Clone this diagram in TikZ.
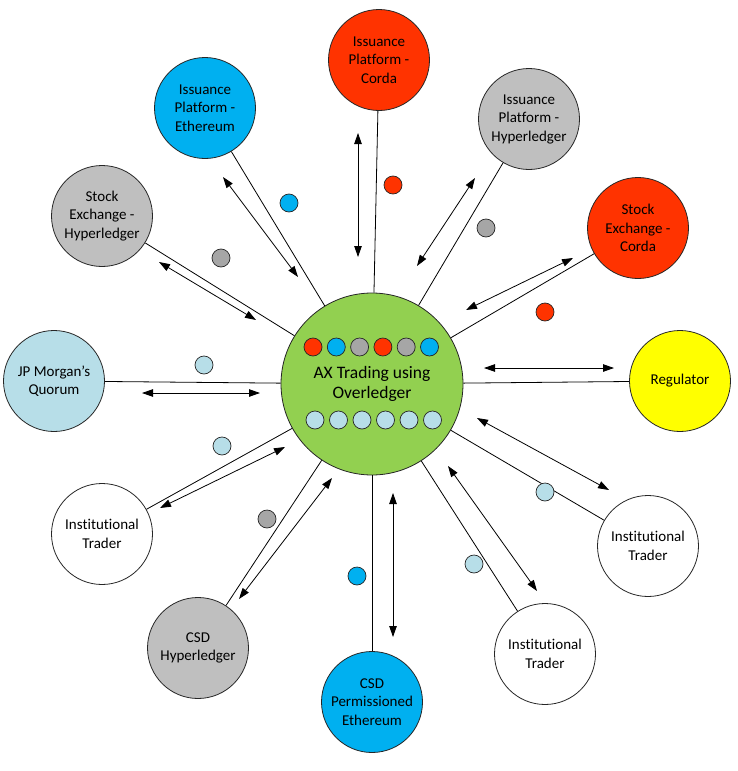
\documentclass[tikz,border=0pt]{standalone}
\usepackage{fontspec}
\setmainfont{Carlito}[Ligatures=NoCommon]
\usetikzlibrary{arrows.meta}
\definecolor{axred}{HTML}{FF3300}
\definecolor{axblue}{HTML}{00B0F0}
\definecolor{axgrey}{HTML}{BFBFBF}
\definecolor{axdgrey}{HTML}{A6A6A6}
\definecolor{axlblue}{HTML}{B7DEE8}
\definecolor{axgreen}{HTML}{92D050}
\definecolor{axyellow}{HTML}{FFFF00}

\begin{document}
\begin{tikzpicture}[
  x=1pt, y=-1pt,
  ent/.style={circle, draw=black!85, line width=0.8pt, minimum size=101pt,
              inner sep=0pt, align=center, font=\fontsize{15}{18.5}\selectfont},
  hub/.style={circle, draw=black!85, line width=0.8pt, minimum size=182pt,
              inner sep=0pt, align=center, fill=axgreen,
              font=\fontsize{17.5}{20.5}\selectfont},
  tok/.style={circle, draw=black!85, line width=0.7pt, minimum size=18pt,
              inner sep=0pt},
  ln/.style={line width=0.8pt},
  dbl/.style={{Triangle[length=11pt,width=7.5pt]}-{Triangle[length=11pt,width=7.5pt]},
              line width=0.8pt}]

\useasboundingbox (0,0) rectangle (738,771);

\node[hub] (ax) at (372,384) {AX Trading using\\Overledger};

% tokens inside the hub
\foreach \c [count=\i from 0] in {axred,axblue,axdgrey,axred,axdgrey,axblue} {
  \node[tok, fill=\c] (top\i) at (313+23.3*\i,347) {};
}
\foreach \i in {0,...,5} {
  \node[tok, fill=axlblue] (bot\i) at (315+23.5*\i,420) {};
}

% ledgers and participants
\node[ent, fill=axred]    (ipc)  at (379,60)  {Issuance\\Platform -\\Corda};
\node[ent, fill=axblue]   (ipe)  at (205,108) {Issuance\\Platform -\\Ethereum};
\node[ent, fill=axgrey]   (iph)  at (529,119) {Issuance\\Platform -\\Hyperledger};
\node[ent, fill=axgrey]   (seh)  at (102,216) {Stock\\Exchange -\\Hyperledger};
\node[ent, fill=axred]    (sec)  at (638,228) {Stock\\Exchange -\\Corda};
\node[ent, fill=axlblue]  (jpm)  at (54,381)  {JP Morgan’s\\Quorum};
\node[ent, fill=axyellow] (reg)  at (680,381) {Regulator};
\node[ent, fill=white]    (itl)  at (102,534) {Institutional\\Trader};
\node[ent, fill=white]    (itr)  at (648,546) {Institutional\\Trader};
\node[ent, fill=white]    (itb)  at (545,654) {Institutional\\Trader};
\node[ent, fill=axgrey]   (csdh) at (198,648) {CSD\\Hyperledger};
\node[ent, fill=axblue]   (csde) at (372,702) {CSD\\Permissioned\\Ethereum};

\foreach \n in {ipc,ipe,iph,seh,sec,jpm,reg,itl,itr,itb,csdh,csde} {
  \draw[ln] (\n) -- (ax);
}

% two-way message arrows
\foreach \n/\xa/\ya/\xb/\yb in {ipe/223/177/298/277, seh/159/262/256/320,
    ipc/358/133/358/257, iph/475/178/417/266, sec/573/258/466/310,
    jpm/142/393/260/393, reg/484/368/614/368, itl/160/508/285/447,
    csdh/239/599/332/478, csde/393/493/393/637, itr/477/418/609/490,
    itb/448/466/537/591} {
  \coordinate (\n-from) at (\xa,\ya);
  \coordinate (\n-to) at (\xb,\yb);
  \draw[dbl] (\n-from) -- (\n-to);
}

% tokens in transit
\foreach \n/\x/\y/\c in {ipe/289/203/axblue, seh/221/258/axdgrey,
    ipc/393/185/axred, iph/486/228/axdgrey, sec/545/312/axred,
    jpm/204/365/axlblue, itl/222/446/axlblue, csdh/267/519/axdgrey,
    csde/357/576/axblue, itr/545/492/axlblue, itb/474/564/axlblue} {
  \node[tok, fill=\c] (\n-tok) at (\x,\y) {};
}
\end{tikzpicture}
\end{document}
